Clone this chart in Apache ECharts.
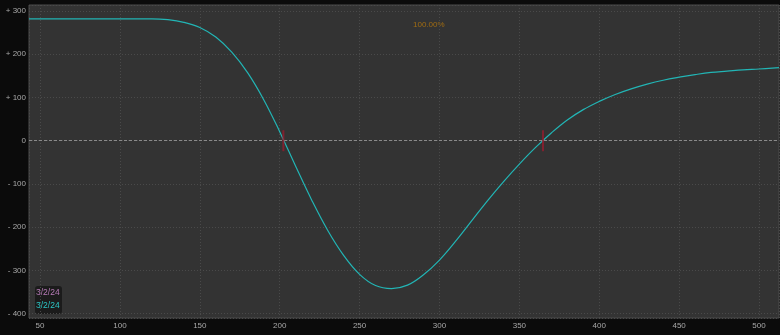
<!DOCTYPE html>
<html><head><meta charset="utf-8">
<style>html,body{margin:0;padding:0;background:#0b0b0b;}#c{width:780px;height:335px;}</style>
<script src="https://cdn.jsdelivr.net/npm/echarts@6/dist/echarts.min.js"></script>
</head><body><div id="c"></div>
<script>
// Data (x = underlying price, y = P/L)
const priceX = [43.1, 80, 110, 120, 130, 140, 150, 160, 170, 180, 190, 200, 210, 220, 230, 240, 250, 260, 270, 280, 290, 300, 310, 320, 330, 340, 350, 360, 370, 380, 390, 400, 410, 420, 430, 440, 450, 460, 470, 480, 490, 500, 512.5];
const plValues = [282, 282, 282, 282, 280, 274, 262, 240, 205, 157, 95, 21, -59, -137, -207, -265, -309, -335, -342, -334, -310, -276, -233, -186, -139, -95, -54, -16, 18, 48, 72, 91, 107, 120, 131, 140, 147, 153, 158, 161, 164, 166, 169];
const breakevenX = [202.3, 364.8];
const legendLabels = ['3/2/24', '3/2/24'];
const probLabel = '100.00%';

const chart = echarts.init(document.getElementById('c'));
const fmtY = v => v > 0 ? '+ ' + v : (v < 0 ? '- ' + (-v) : '0');
const FONT = 'Liberation Sans';
chart.setOption({
  backgroundColor: '#0b0b0b',
  animation: false,
  grid: { left: 29, right: 1, top: 5, bottom: 17, outerBoundsMode: 'none', containLabel: false, show: true, backgroundColor: '#333333', borderColor: '#4c4c4c', borderWidth: 1 },
  xAxis: {
    type: 'value', min: 43.1, max: 512.5, splitNumber: 9,
    axisLine: { show: false }, axisTick: { show: false },
    axisLabel: { color: '#a8a8a8', fontSize: 8, fontFamily: FONT, margin: 4, showMinLabel: false, showMaxLabel: false },
    splitLine: { show: true, lineStyle: { color: '#4a4a4a', type: [1, 2], width: 1 } }
  },
  yAxis: {
    type: 'value', min: -410, max: 314, splitNumber: 7,
    axisLine: { show: false }, axisTick: { show: false },
    axisLabel: { color: '#a8a8a8', fontSize: 8, fontFamily: FONT, margin: 3, formatter: fmtY, showMinLabel: false, showMaxLabel: false },
    splitLine: { show: true, lineStyle: { color: '#4a4a4a', type: [1, 2], width: 1 } }
  },
  series: [
    {
      type: 'line', data: priceX.map((x, i) => [x, plValues[i]]),
      smooth: 0.4, showSymbol: false,
      lineStyle: { color: '#22b5b5', width: 1.2 }, z: 3,
      markLine: {
        silent: true, symbol: 'none', label: { show: false },
        lineStyle: { color: '#8a8a8a', type: [3, 2], width: 1 },
        data: [{ yAxis: 0 }]
      }
    },
    {
      type: 'scatter', data: breakevenX.map(x => [x, 0]),
      symbol: 'rect', symbolSize: [2, 21],
      itemStyle: { color: '#931d2e' }, z: 5, zlevel: 0, silent: true
    }
  ],
  graphic: [
    { type: 'text', x: 413, y: 25, style: { text: probLabel, fill: '#a06c12', font: '8px Liberation Sans', verticalAlign: 'middle' } },
    { type: 'rect', shape: { x: 35, y: 286, width: 27, height: 28, r: 3 }, style: { fill: '#1b1b1b' } },
    { type: 'text', x: 36, y: 293, style: { text: legendLabels[0], fill: '#b67ab6', font: '8.5px Liberation Sans', verticalAlign: 'middle' } },
    { type: 'text', x: 36, y: 306, style: { text: legendLabels[1], fill: '#2cc4c4', font: '8.5px Liberation Sans', verticalAlign: 'middle' } }
  ]
});
</script></body></html>
